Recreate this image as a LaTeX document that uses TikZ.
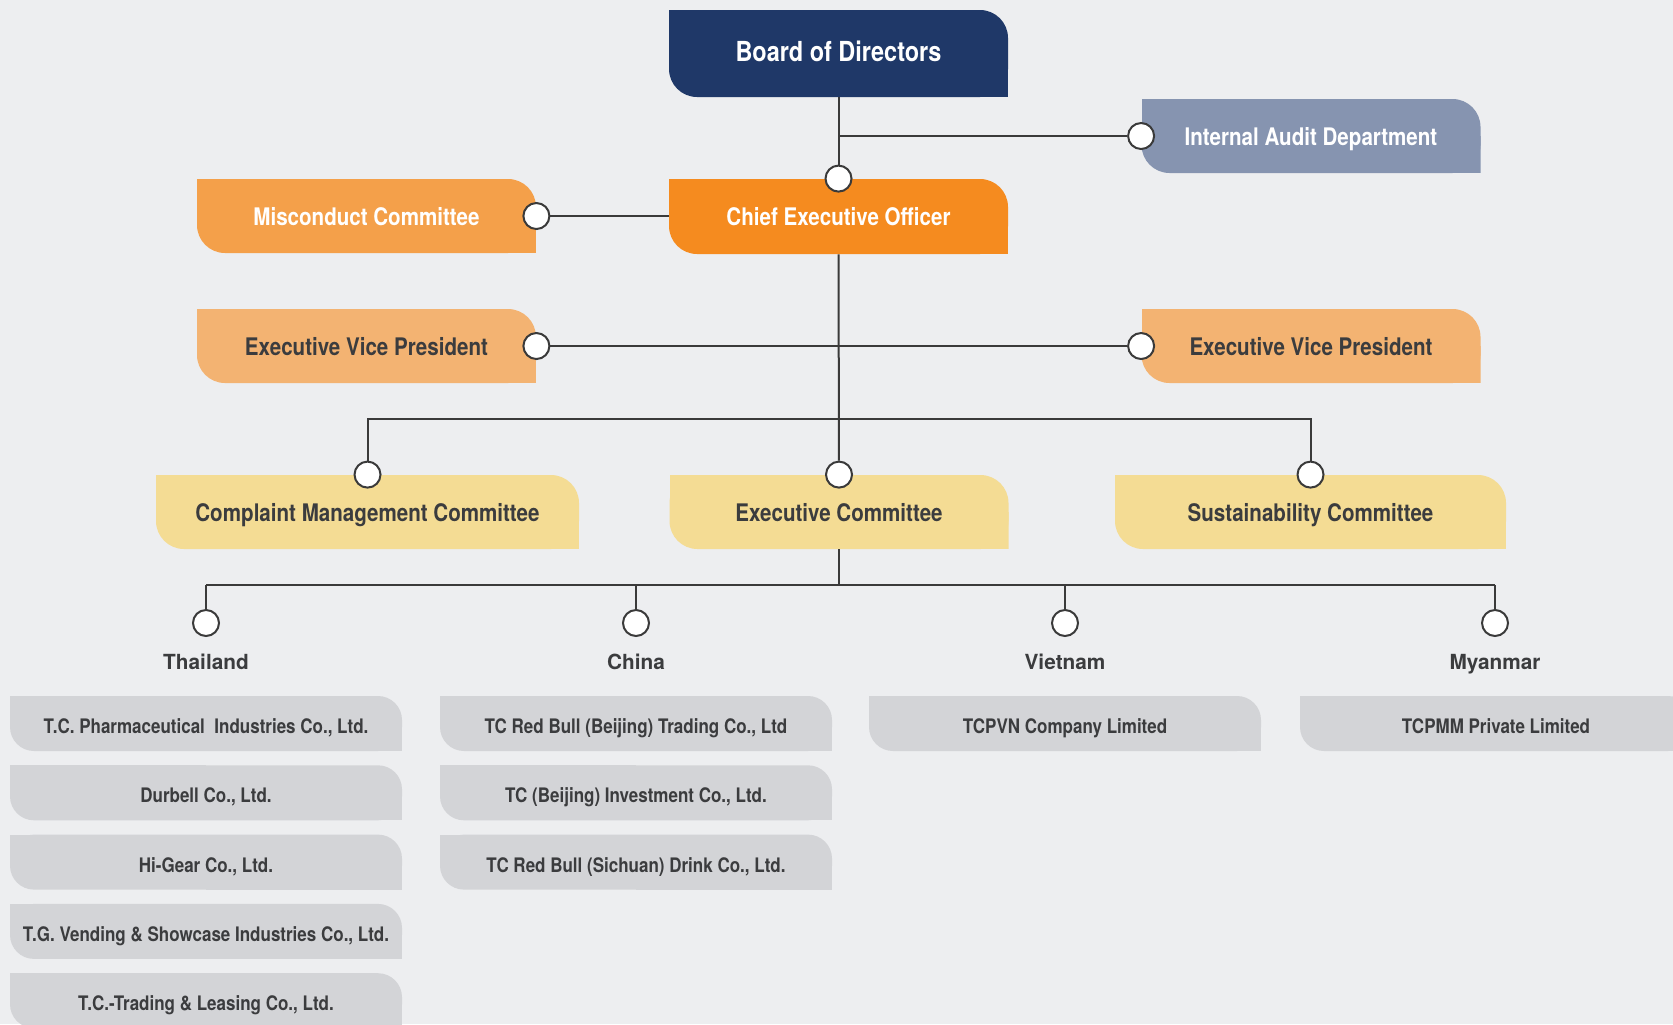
\documentclass[tikz,border=0pt]{standalone}
\usepackage{fontspec}
\setmainfont{TeX Gyre Heros}
\newfontfamily\condfont{TeX Gyre Heros}[FakeStretch=0.85]

\definecolor{paper}{HTML}{EDEEF0}
\definecolor{navy}{HTML}{1F3868}
\definecolor{ceoorange}{HTML}{F58B1F}
\definecolor{midorange}{HTML}{F4A04A}
\definecolor{lightorange}{HTML}{F3B372}
\definecolor{auditblue}{HTML}{8694B0}
\definecolor{sand}{HTML}{F4DC94}
\definecolor{cloud}{HTML}{D3D4D7}
\definecolor{ink}{HTML}{3B3C3E}
\definecolor{wirecol}{HTML}{3A3A3A}

\tikzset{
  leaf/.style 2 args={inner sep=0pt, text height=0.9em, text depth=0pt, path picture={
      \fill[#1,rounded corners=#2] (path picture bounding box.south west) rectangle (path picture bounding box.north east);
      \fill[#1] (path picture bounding box.north west) rectangle (path picture bounding box.center);
      \fill[#1] (path picture bounding box.south east) rectangle (path picture bounding box.center);}},
  orgbox/.style={leaf={#1}{14pt}, minimum width=169.5pt, minimum height=37pt,
      font=\condfont\bfseries\fontsize{12.1}{14}\selectfont},
  firm/.style={leaf={cloud}{12pt}, text height=1.0em, minimum width=196pt, minimum height=27.5pt, text=ink,
      font=\condfont\bfseries\fontsize{10}{12}\selectfont},
  land/.style={inner sep=0pt, text height=0.93em, text depth=0pt, text=ink,
      font=\bfseries\fontsize{10.4}{12}\selectfont},
  knob/.style={circle, draw=wirecol, fill=white, line width=1pt, minimum size=13pt, inner sep=0pt},
  wire/.style={draw=wirecol, line width=1pt}
}

\begin{document}
\begin{tikzpicture}[x=0.5pt, y=-0.5pt]
  \useasboundingbox (0,0) rectangle (1673,1024);
  \fill[paper] (0,0) rectangle (1673,1024);

  % boxes
  \node[orgbox=navy, minimum height=43.5pt, text=white, text height=0.8em,
        font=\condfont\bfseries\fontsize{13.8}{16}\selectfont] (board) at (838.5,53.5) {Board of Directors};
  \node[orgbox=ceoorange, minimum height=37.5pt, text=white] (ceo) at (838.5,216.5) {Chief Executive Officer};
  \node[orgbox=auditblue, text=white] (audit) at (1311,136) {Internal Audit Department};
  \node[orgbox=midorange, text=white] (misc) at (366.5,216) {Misconduct Committee};
  \node[orgbox=lightorange, text=ink] (evpL) at (366.5,346) {Executive Vice President};
  \node[orgbox=lightorange, text=ink] (evpR) at (1311,346) {Executive Vice President};
  \node[orgbox=sand, text=ink, minimum width=211.5pt] (cmp) at (367.5,512) {Complaint Management Committee};
  \node[orgbox=sand, text=ink] (exec) at (839,512) {Executive Committee};
  \node[orgbox=sand, text=ink, minimum width=195.5pt] (sus) at (1310.5,512) {Sustainability Committee};

  % knobs
  \node[knob] (k-ceo) at (ceo.north) {};
  \node[knob] (k-audit) at (audit.west) {};
  \node[knob] (k-misc) at (misc.east) {};
  \node[knob] (k-evpL) at (evpL.east) {};
  \node[knob] (k-evpR) at (evpR.west) {};
  \node[knob] (k-cmp) at (cmp.north) {};
  \node[knob] (k-exec) at (exec.north) {};
  \node[knob] (k-sus) at (sus.north) {};

  \coordinate (bar) at (839,419);
  \coordinate (fork) at (839,585);

  \draw[wire] (board.south) -- (k-ceo);
  \draw[wire] (board.south |- k-audit) -- (k-audit);
  \draw[wire] (k-misc) -- (k-misc -| ceo.west);
  \draw[wire] (ceo.south) -- (k-exec);
  \draw[wire] (k-evpL) -- (k-evpR);
  \draw[wire] (k-cmp) -- (k-cmp |- bar) -- (k-sus |- bar) -- (k-sus);

  % countries
  \foreach \nm/\cx in {Thailand/206, China/636, Vietnam/1065, Myanmar/1495} {
    \node[knob] (k-\nm) at (\cx,623) {};
    \node[land] (\nm) at (\cx,660) {\nm};
  }
  \draw[wire] (exec.south) -- (fork);
  \draw[wire] (k-Thailand |- fork) -- (k-Myanmar |- fork);
  \foreach \nm in {Thailand, China, Vietnam, Myanmar}
    \draw[wire] (k-\nm |- fork) -- (k-\nm);

  % companies
  \foreach \co [count=\i] in {{T.C. Pharmaceutical\ \ Industries Co., Ltd.}, {Durbell Co., Ltd.},
      {Hi-Gear Co., Ltd.}, {T.G. Vending \& Showcase Industries Co., Ltd.}, {T.C.-Trading \& Leasing Co., Ltd.}}
    \node[firm] (th-\i) at (206,{723.5+69.3*(\i-1)}) {\co};
  \foreach \co [count=\i] in {{TC Red Bull (Beijing) Trading Co., Ltd}, {TC (Beijing) Investment Co., Ltd.},
      {TC Red Bull (Sichuan) Drink Co., Ltd.}}
    \node[firm] (cn-\i) at (636,{723.5+69.3*(\i-1)}) {\co};
  \node[firm] (vn-1) at (1065,723.5) {TCPVN Company Limited};
  \node[firm] (mm-1) at (1496,723.5) {TCPMM Private Limited};
\end{tikzpicture}
\end{document}
